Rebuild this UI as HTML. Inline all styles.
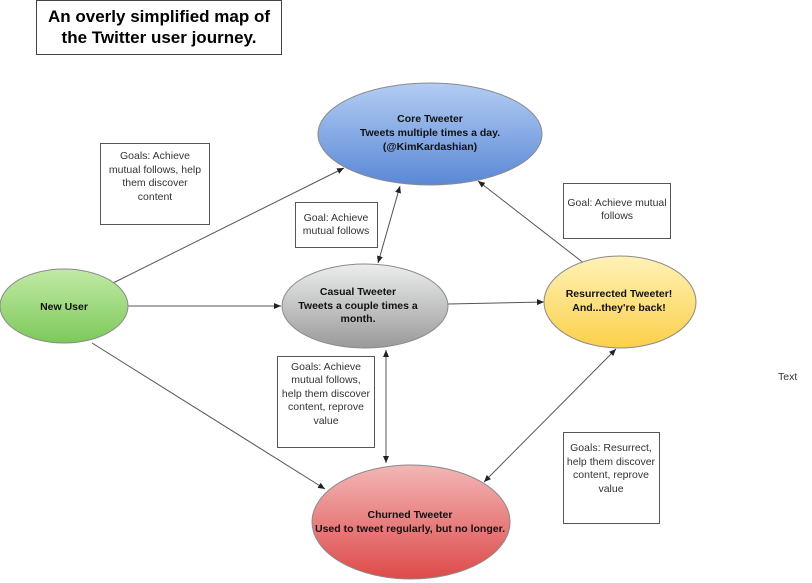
<!DOCTYPE html>
<html><head><meta charset="utf-8"><style>
html,body{margin:0;padding:0;background:#fff;width:812px;height:583px;overflow:hidden}
svg{display:block}
text{font-family:"Liberation Sans",sans-serif}
</style></head><body>
<svg width="812" height="583" viewBox="0 0 812 583" xmlns="http://www.w3.org/2000/svg">
<defs>
<linearGradient id="gb" x1="0" y1="0" x2="0" y2="1"><stop offset="0" stop-color="#b3cdf3"/><stop offset="1" stop-color="#5a88d6"/></linearGradient>
<linearGradient id="gg" x1="0" y1="0" x2="0" y2="1"><stop offset="0" stop-color="#c2eaa5"/><stop offset="1" stop-color="#7cc95a"/></linearGradient>
<linearGradient id="gr" x1="0" y1="0" x2="0" y2="1"><stop offset="0" stop-color="#eceeee"/><stop offset="1" stop-color="#9a9a9a"/></linearGradient>
<linearGradient id="gy" x1="0" y1="0" x2="0" y2="1"><stop offset="0" stop-color="#fff2b8"/><stop offset="1" stop-color="#fbd04a"/></linearGradient>
<linearGradient id="gd" x1="0" y1="0" x2="0" y2="1"><stop offset="0" stop-color="#f3b6b6"/><stop offset="1" stop-color="#de4a4a"/></linearGradient>
<marker id="a" markerWidth="8" markerHeight="8" refX="7" refY="4" orient="auto" markerUnits="userSpaceOnUse"><path d="M0,1 L7,4 L0,7 z" fill="#222"/></marker>
<marker id="s" markerWidth="8" markerHeight="8" refX="1" refY="4" orient="auto" markerUnits="userSpaceOnUse"><path d="M8,1 L1,4 L8,7 z" fill="#222"/></marker>
</defs>
<rect x="36.5" y="0.5" width="245" height="54" fill="#fff" stroke="#444"/>
<text x="159" y="22" font-size="17" font-weight="bold" text-anchor="middle">An overly simplified map of</text>
<text x="159" y="43" font-size="17" font-weight="bold" text-anchor="middle">the Twitter user journey.</text>

<g stroke="#555" stroke-width="1" fill="none">
<line x1="113" y1="283" x2="344" y2="168" marker-end="url(#a)"/>
<line x1="128" y1="306" x2="281" y2="306" marker-end="url(#a)"/>
<line x1="92" y1="343" x2="325" y2="489" marker-end="url(#a)"/>
<line x1="378" y1="263" x2="400" y2="186" marker-start="url(#s)" marker-end="url(#a)"/>
<line x1="448" y1="304" x2="544" y2="302" marker-end="url(#a)"/>
<line x1="585" y1="264" x2="478" y2="181" marker-end="url(#a)"/>
<line x1="386" y1="350" x2="386" y2="463" marker-start="url(#s)" marker-end="url(#a)"/>
<line x1="616" y1="349" x2="484" y2="482" marker-start="url(#s)" marker-end="url(#a)"/>
</g>

<g stroke="#555" fill="#fff">
<rect x="100.5" y="143.5" width="109" height="81"/>
<rect x="295.5" y="202.5" width="82" height="45"/>
<rect x="563.5" y="183.5" width="107" height="55"/>
<rect x="277.5" y="356.5" width="97" height="91"/>
<rect x="563.5" y="432.5" width="96" height="91"/>
</g>
<g font-size="10.5" fill="#333" text-anchor="middle">
<text x="155" y="159">Goals: Achieve</text>
<text x="155" y="173">mutual follows, help</text>
<text x="155" y="186">them discover</text>
<text x="155" y="200">content</text>
<text x="336" y="221">Goal: Achieve</text>
<text x="336" y="234">mutual follows</text>
<text x="617" y="206">Goal: Achieve mutual</text>
<text x="617" y="219">follows</text>
<text x="326" y="370">Goals: Achieve</text>
<text x="326" y="383">mutual follows,</text>
<text x="326" y="397">help them discover</text>
<text x="326" y="410">content, reprove</text>
<text x="326" y="424">value</text>
<text x="611" y="451">Goals: Resurrect,</text>
<text x="611" y="465">help them discover</text>
<text x="611" y="478">content, reprove</text>
<text x="611" y="492">value</text>
</g>
<text x="778" y="380" font-size="10.5" fill="#333">Text</text>

<g stroke="#8a8a8a" stroke-width="1">
<ellipse cx="430" cy="134" rx="112" ry="51" fill="url(#gb)"/>
<ellipse cx="64" cy="306" rx="64" ry="37" fill="url(#gg)"/>
<ellipse cx="365" cy="306" rx="83" ry="42" fill="url(#gr)"/>
<ellipse cx="620" cy="302" rx="76" ry="46" fill="url(#gy)"/>
<ellipse cx="411" cy="522" rx="99" ry="57" fill="url(#gd)"/>
</g>
<g font-size="10.5" font-weight="bold" fill="#111" text-anchor="middle">
<text x="430" y="122">Core Tweeter</text>
<text x="430" y="136">Tweets multiple times a day.</text>
<text x="430" y="150">(@KimKardashian)</text>
<text x="64" y="310">New User</text>
<text x="358" y="295">Casual Tweeter</text>
<text x="358" y="309">Tweets a couple times a</text>
<text x="358" y="322">month.</text>
<text x="619" y="297">Resurrected Tweeter!</text>
<text x="619" y="311">And...they're back!</text>
<text x="410" y="518">Churned Tweeter</text>
<text x="410" y="532">Used to tweet regularly, but no longer.</text>
</g>
</svg>
</body></html>
